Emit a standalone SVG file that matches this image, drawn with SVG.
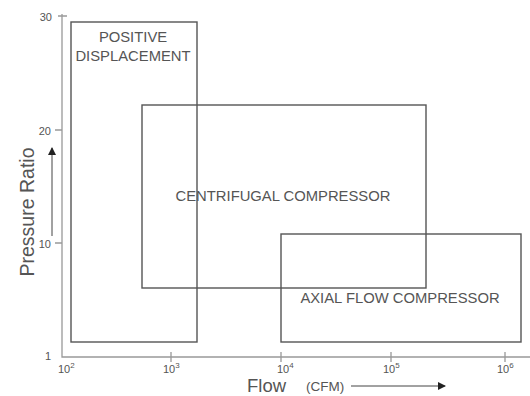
<svg xmlns="http://www.w3.org/2000/svg" width="530" height="396" viewBox="0 0 530 396">
  <style>
    text { font-family: "Liberation Sans", Arial, sans-serif; fill: #555; }
    .axis { stroke: #999; stroke-width: 1.3; fill: none; }
    .region { stroke: #555; stroke-width: 1.4; fill: none; }
    .lbl { font-size: 14.8px; text-anchor: middle; }
    .tick { font-size: 11px; }
    .sup { font-size: 8px; }
    .ptr { stroke: #444; stroke-width: 1; fill: none; }
  </style>
  <defs>
    <marker id="head" markerWidth="8" markerHeight="8" refX="7" refY="4" orient="auto" markerUnits="userSpaceOnUse">
      <path d="M0,0 L8,4 L0,8 Z" fill="#222"/>
    </marker>
  </defs>

  <!-- axes and ticks -->
  <g id="connectors">
    <path class="axis" d="M62,14 V357 H530"/>
    <path class="axis" d="M58,16 H67 M55,130 H62 M55,243 H62"/>
    <path class="axis" d="M171,352 V362 M281,352 V362 M391,352 V362 M505,352 V362"/>
    <path class="ptr" d="M52,236 V148" marker-end="url(#head)"/>
    <path class="ptr" d="M351,386 H445" marker-end="url(#head)"/>
  </g>

  <!-- axis labels -->
  <g id="y-axis-labels">
    <text class="tick" x="52" y="21" text-anchor="end">30</text>
    <text class="tick" x="51" y="135" text-anchor="end">20</text>
    <text class="tick" x="51" y="248" text-anchor="end">10</text>
    <text class="tick" x="51" y="360" text-anchor="end">1</text>
    <text x="34" y="212" font-size="19.5" text-anchor="middle" transform="rotate(-90 34 212)">Pressure Ratio</text>
  </g>
  <g id="x-axis-labels">
    <text class="tick" x="58" y="373">10<tspan class="sup" dy="-5">2</tspan></text>
    <text class="tick" x="163" y="373">10<tspan class="sup" dy="-5">3</tspan></text>
    <text class="tick" x="277" y="373">10<tspan class="sup" dy="-5">4</tspan></text>
    <text class="tick" x="383" y="373">10<tspan class="sup" dy="-5">5</tspan></text>
    <text class="tick" x="497" y="373">10<tspan class="sup" dy="-5">6</tspan></text>
    <text x="247" y="392" font-size="18.5">Flow</text>
    <text x="306" y="391" font-size="13.5">(CFM)</text>
  </g>

  <!-- operating regions -->
  <g id="positive-displacement">
    <rect class="region" x="71" y="22" width="126" height="320"/>
    <text class="lbl" x="133" y="42">POSITIVE</text>
    <text class="lbl" x="133" y="61">DISPLACEMENT</text>
  </g>
  <g id="centrifugal-compressor">
    <rect class="region" x="142" y="105" width="284" height="183"/>
    <text class="lbl" x="283" y="201">CENTRIFUGAL COMPRESSOR</text>
  </g>
  <g id="axial-flow-compressor">
    <rect class="region" x="281" y="234" width="240" height="108"/>
    <text class="lbl" x="400" y="303">AXIAL FLOW COMPRESSOR</text>
  </g>
</svg>
